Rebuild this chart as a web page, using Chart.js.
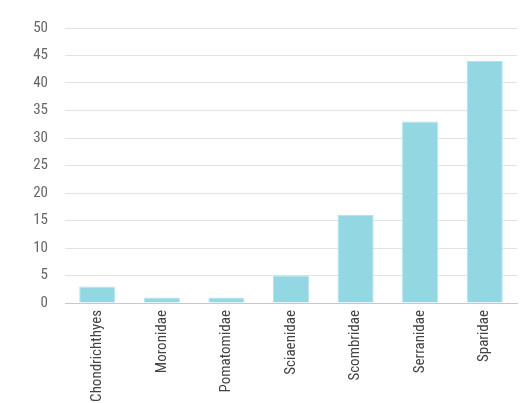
<!DOCTYPE html>
<html>
<head>
<meta charset="utf-8">
<script src="https://cdn.jsdelivr.net/npm/chart.js@4"></script>
<style>
html,body{margin:0;padding:0;background:#fff;}
#wrap{width:532px;height:403px;}
</style>
</head>
<body>
<div id="wrap"><canvas id="c" width="532" height="403"></canvas></div>
<script>
const categories = ["Chondrichthyes","Moronidae","Pomatomidae","Sciaenidae","Scombridae","Serranidae","Sparidae"];
const counts = [3, 1, 1, 5, 16, 33, 44];
const yTicks = [0, 5, 10, 15, 20, 25, 30, 35, 40, 45, 50];

const fontFamily = "'Liberation Sans Narrow','Roboto Condensed','DejaVu Sans Condensed',Roboto,sans-serif";

new Chart(document.getElementById('c'), {
  type: 'bar',
  data: {
    labels: categories,
    datasets: [{
      data: counts,
      backgroundColor: '#93d7e3',
      borderColor: '#b3e4ed',
      borderWidth: 1,
      barPercentage: 0.56,
      categoryPercentage: 1.0
    }]
  },
  options: {
    responsive: false,
    animation: false,
    devicePixelRatio: 1,
    layout: { padding: { top: 28, right: 15, left: 0, bottom: 0 } },
    plugins: { legend: { display: false }, tooltip: { enabled: false } },
    scales: {
      x: {
        grid: { display: false, drawTicks: false },
        border: { display: true, color: '#c8c8c8', width: 1 },
        ticks: {
          color: '#444',
          font: { family: fontFamily, size: 15 },
          minRotation: 90, maxRotation: 90,
          padding: 7,
          autoSkip: false
        },
        afterFit: s => { s.height = 100; }
      },
      y: {
        min: 0, max: 50,
        afterBuildTicks: s => { s.ticks = yTicks.map(v => ({ value: v })); },
        grid: { color: '#e2e2e2', drawTicks: false },
        border: { display: false },
        ticks: {
          color: '#666',
          font: { family: fontFamily, size: 15 },
          padding: 17
        },
        afterFit: s => { s.width = 65; }
      }
    }
  }
});
</script>
</body>
</html>
